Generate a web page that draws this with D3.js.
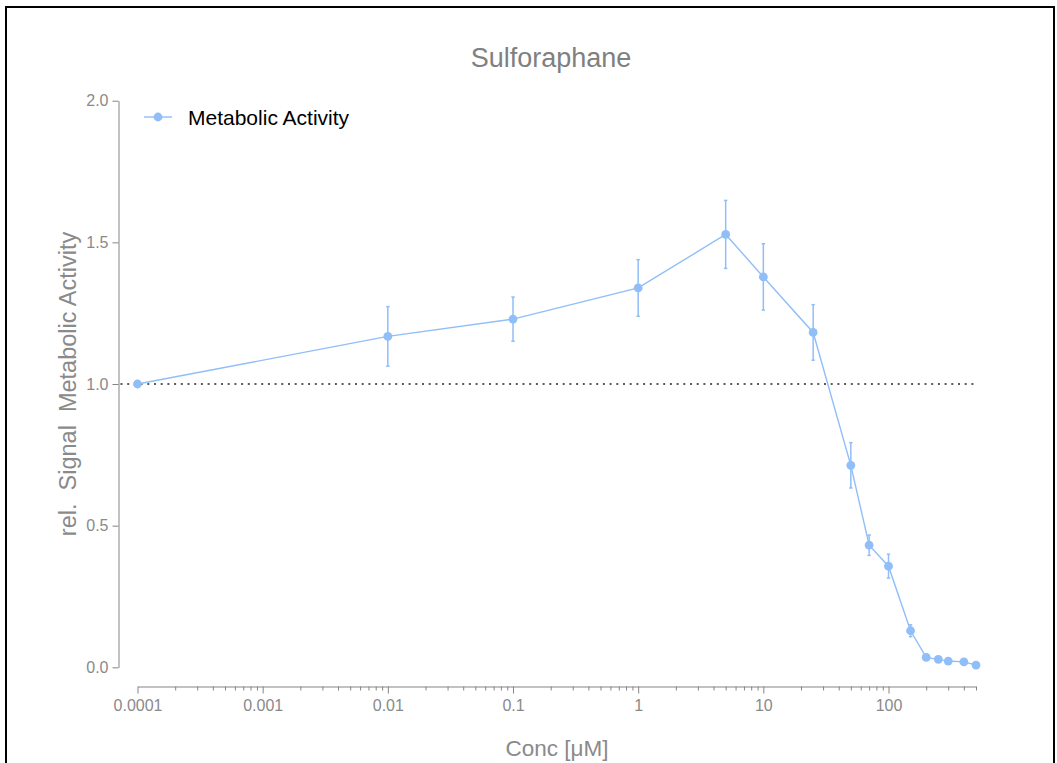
<!DOCTYPE html>
<html>
<head>
<meta charset="utf-8">
<script src="https://cdn.jsdelivr.net/npm/d3@7"></script>
<style>
  html, body { margin: 0; padding: 0; background: #fff; }
  svg { display: block; font-family: "Liberation Sans", Arial, sans-serif; }
</style>
</head>
<body>
<svg id="chart" width="1057" height="763"></svg>
<script>
// Concentrations in µM (the untreated control is placed at 0.0001)
const concentrations = [0.0001, 0.01, 0.1, 1, 5, 10, 25, 50, 70, 100, 150, 200, 250, 300, 400, 500];
// Mean relative metabolic activity
const activity = [1.0, 1.168, 1.229, 1.339, 1.528, 1.378, 1.182, 0.713, 0.431, 0.357, 0.129, 0.035, 0.028, 0.022, 0.019, 0.008];
// Error (± half bar length); 0 where no bar is drawn
const activityErr = [0, 0.105, 0.078, 0.10, 0.12, 0.117, 0.098, 0.08, 0.036, 0.042, 0.021, 0, 0, 0, 0, 0];

const xTickValues = [0.0001, 0.001, 0.01, 0.1, 1, 10, 100];
const xTickLabels = ["0.0001", "0.001", "0.01", "0.1", "1", "10", "100"];
const yTickValues = [0, 0.5, 1.0, 1.5, 2.0];
const yTickLabels = ["0.0", "0.5", "1.0", "1.5", "2.0"];
const xDomain = [0.0001, 500];
const yDomain = [0, 2];
const referenceLevel = 1.0;

const seriesName = "Metabolic Activity";
const titleText = "Sulforaphane";
const xTitle = "Conc [\u03BCM]";
const yTitle = "rel.\u00A0 Signal\u00A0 Metabolic Activity";

const blue = "#90BEF8";
const axisGrey = "#858585";
const textGrey = "#8a8a8a";

const svg = d3.select("#chart");

// Outer frame
svg.append("rect")
  .attr("x", 6).attr("y", 7)
  .attr("width", 1048).attr("height", 790)
  .attr("fill", "none").attr("stroke", "#000").attr("stroke-width", 2);

const x = d3.scaleLog().domain(xDomain).range([137.5, 976]);
const y = d3.scaleLinear().domain(yDomain).range([667.3, 100.7]);
const yAxisX = 118.5;
const xAxisY = 686.5;

// Y axis
const yAxis = d3.axisLeft(y)
  .tickValues(yTickValues)
  .tickFormat((d, i) => yTickLabels[i])
  .tickSize(6)
  .tickPadding(4)
  .tickSizeOuter(0);
const gy = svg.append("g").attr("transform", `translate(${yAxisX},0)`).call(yAxis);
gy.select(".domain").attr("stroke", axisGrey);
gy.selectAll(".tick line").attr("stroke", axisGrey);
gy.selectAll(".tick text").attr("fill", textGrey).style("font-size", "16px");

// X axis: minor ticks from the log scale, labels at each decade
const minorTicks = x.ticks().filter(v => !xTickValues.some(t => Math.abs(t - v) / t < 1e-9));
const xAxisMajor = d3.axisBottom(x)
  .tickValues(xTickValues)
  .tickFormat((d, i) => xTickLabels[i])
  .tickSize(7)
  .tickPadding(6)
  .tickSizeOuter(0);
const gx = svg.append("g").attr("transform", `translate(0,${xAxisY})`).call(xAxisMajor);
gx.select(".domain").attr("stroke", axisGrey);
gx.selectAll(".tick line").attr("stroke", axisGrey);
gx.selectAll(".tick text").attr("fill", textGrey).style("font-size", "16px");

const xAxisMinor = d3.axisBottom(x)
  .tickValues(minorTicks)
  .tickFormat("")
  .tickSize(4)
  .tickSizeOuter(0);
const gxm = svg.append("g").attr("transform", `translate(0,${xAxisY})`).call(xAxisMinor);
gxm.select(".domain").remove();
gxm.selectAll(".tick line").attr("stroke", axisGrey);

// Reference line at 1.0
svg.append("line")
  .attr("x1", yAxisX + 2).attr("x2", x(xDomain[1]))
  .attr("y1", y(referenceLevel)).attr("y2", y(referenceLevel))
  .attr("stroke", "#5a5a5a").attr("stroke-width", 2)
  .attr("stroke-dasharray", "2,4.7");

const data = concentrations.map((c, i) => ({ c, v: activity[i], e: activityErr[i] }));

// Error bars
const eb = svg.append("g").selectAll("g").data(data.filter(d => d.e > 0)).join("g");
eb.append("line")
  .attr("x1", d => x(d.c)).attr("x2", d => x(d.c))
  .attr("y1", d => y(d.v - d.e)).attr("y2", d => y(d.v + d.e))
  .attr("stroke", blue).attr("stroke-width", 1.5);
eb.append("line")
  .attr("x1", d => x(d.c) - 1.7).attr("x2", d => x(d.c) + 1.7)
  .attr("y1", d => y(d.v + d.e)).attr("y2", d => y(d.v + d.e))
  .attr("stroke", blue).attr("stroke-width", 1.5);
eb.append("line")
  .attr("x1", d => x(d.c) - 1.7).attr("x2", d => x(d.c) + 1.7)
  .attr("y1", d => y(d.v - d.e)).attr("y2", d => y(d.v - d.e))
  .attr("stroke", blue).attr("stroke-width", 1.5);

// Connecting line
svg.append("path")
  .datum(data)
  .attr("fill", "none")
  .attr("stroke", blue)
  .attr("stroke-width", 1.4)
  .attr("d", d3.line().x(d => x(d.c)).y(d => y(d.v)));

// Markers
svg.append("g").selectAll("circle").data(data).join("circle")
  .attr("cx", d => x(d.c)).attr("cy", d => y(d.v))
  .attr("r", 4.4).attr("fill", blue);

// Legend
const lg = svg.append("g").attr("transform", "translate(144,117)");
lg.append("line").attr("x1", 0).attr("x2", 28).attr("y1", 0).attr("y2", 0)
  .attr("stroke", blue).attr("stroke-width", 1.4);
lg.append("circle").attr("cx", 14).attr("cy", 0).attr("r", 4.4).attr("fill", blue);
lg.append("text").attr("x", 44).attr("y", 7.5)
  .attr("fill", "#000").style("font-size", "21px").text(seriesName);

// Title
svg.append("text")
  .attr("x", 551).attr("y", 67)
  .attr("text-anchor", "middle")
  .attr("fill", "#808080")
  .style("font-size", "27px")
  .text(titleText);

// Axis titles
svg.append("text")
  .attr("x", 557).attr("y", 756)
  .attr("text-anchor", "middle")
  .attr("fill", textGrey)
  .style("font-size", "22.5px")
  .text(xTitle);

svg.append("text")
  .attr("transform", "translate(76,384) rotate(-90)")
  .attr("text-anchor", "middle")
  .attr("fill", textGrey)
  .style("font-size", "23.5px")
  .text(yTitle);
</script>
</body>
</html>
